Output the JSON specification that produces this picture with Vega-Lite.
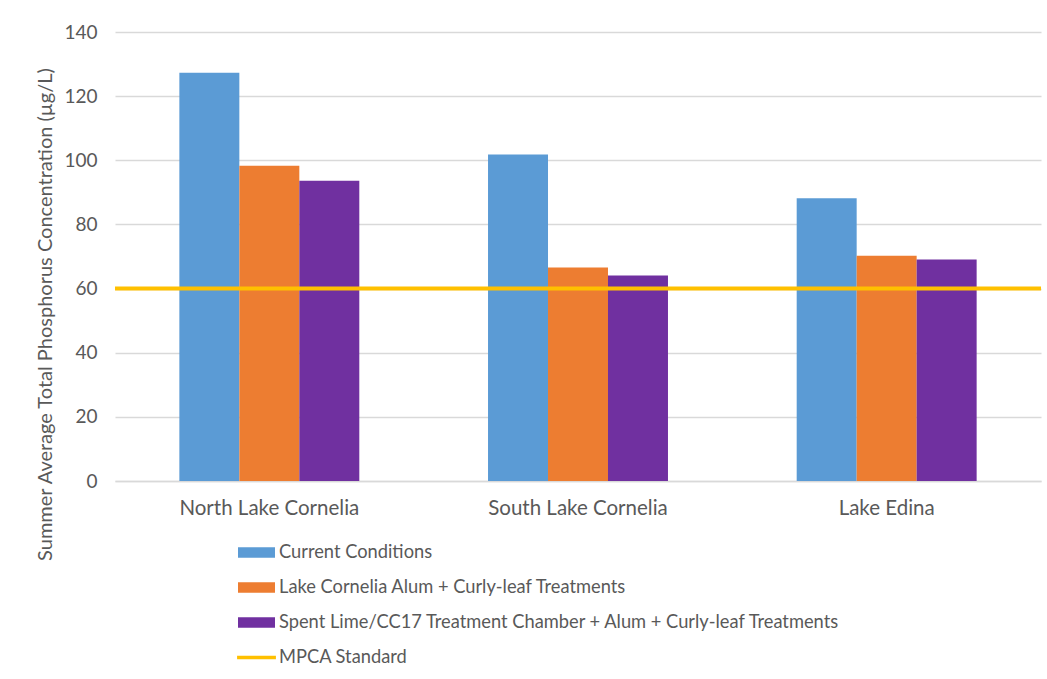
{
  "$schema": "https://vega.github.io/schema/vega-lite/v6.json",
  "width": 926,
  "height": 449,
  "autosize": {"type": "none"},
  "padding": {"left": 115, "top": 32, "right": 6, "bottom": 198},
  "background": "white",
  "config": {
    "font": "Lato",
    "view": {"stroke": null}
  },
  "datasets": {
    "bars": [
      {"lake": "North Lake Cornelia", "scenario": "Current Conditions", "tp": 127.3},
      {"lake": "North Lake Cornelia", "scenario": "Lake Cornelia Alum + Curly-leaf Treatments", "tp": 98.3},
      {"lake": "North Lake Cornelia", "scenario": "Spent Lime/CC17 Treatment Chamber + Alum + Curly-leaf Treatments", "tp": 93.6},
      {"lake": "South Lake Cornelia", "scenario": "Current Conditions", "tp": 101.8},
      {"lake": "South Lake Cornelia", "scenario": "Lake Cornelia Alum + Curly-leaf Treatments", "tp": 66.6},
      {"lake": "South Lake Cornelia", "scenario": "Spent Lime/CC17 Treatment Chamber + Alum + Curly-leaf Treatments", "tp": 64.1},
      {"lake": "Lake Edina", "scenario": "Current Conditions", "tp": 88.2},
      {"lake": "Lake Edina", "scenario": "Lake Cornelia Alum + Curly-leaf Treatments", "tp": 70.2},
      {"lake": "Lake Edina", "scenario": "Spent Lime/CC17 Treatment Chamber + Alum + Curly-leaf Treatments", "tp": 69.1}
    ],
    "standard": [
      {"name": "MPCA Standard", "tp": 60}
    ]
  },
  "encoding": {
    "y": {
      "field": "tp",
      "type": "quantitative",
      "scale": {"domain": [0, 140], "nice": false},
      "axis": {
        "title": "Summer Average Total Phosphorus Concentration (µg/L)",
        "values": [0, 20, 40, 60, 80, 100, 120, 140],
        "grid": true,
        "gridColor": "#D9D9D9",
        "gridWidth": 1.3,
        "domain": false,
        "ticks": false,
        "labelPadding": 18,
        "labelFontSize": 19,
        "labelColor": "#595959",
        "titleFontSize": 20,
        "titleColor": "#595959",
        "titleFontWeight": "normal",
        "titleAngle": -90,
        "titleX": -70,
        "titleY": 282,
        "titleAlign": "center",
        "titleBaseline": "middle"
      }
    }
  },
  "layer": [
    {
      "data": {"name": "bars"},
      "mark": {"type": "bar"},
      "encoding": {
        "x": {
          "field": "lake",
          "type": "nominal",
          "sort": ["North Lake Cornelia", "South Lake Cornelia", "Lake Edina"],
          "scale": {"paddingInner": 0.417, "paddingOuter": 0.2085},
          "axis": {
            "title": null,
            "labelAngle": 0,
            "labelFontSize": 20.5,
            "labelColor": "#595959",
            "labelPadding": 17,
            "ticks": false,
            "domain": true,
            "domainColor": "#D9D9D9",
            "domainWidth": 1.3,
            "labelLimit": 0
          }
        },
        "xOffset": {
          "field": "scenario",
          "sort": ["Current Conditions", "Lake Cornelia Alum + Curly-leaf Treatments", "Spent Lime/CC17 Treatment Chamber + Alum + Curly-leaf Treatments"],
          "scale": {"paddingInner": 0, "paddingOuter": 0}
        },
        "color": {
          "field": "scenario",
          "type": "nominal",
          "scale": {
            "domain": ["Current Conditions", "Lake Cornelia Alum + Curly-leaf Treatments", "Spent Lime/CC17 Treatment Chamber + Alum + Curly-leaf Treatments", "MPCA Standard"],
            "range": ["#5B9BD5", "#ED7D31", "#7030A0", "#FFC000"]
          },
          "legend": {
            "title": null,
            "orient": "none",
            "legendX": 123,
            "legendY": 502,
            "direction": "vertical",
            "padding": 0,
            "symbolSize": 1369,
            "symbolType": "square",
            "symbolStrokeWidth": 0,
            "rowPadding": 8,
            "labelOffset": 4,
            "labelFontSize": 18.3,
            "labelColor": "#595959",
            "labelLimit": 0,
            "encode": {
              "symbols": {
                "update": {
                  "shape": {"signal": "datum.value === 'MPCA Standard' ? 'M-1.05,-0.1H1.05V0.1H-1.05Z' : 'M-1,-0.28H1V0.28H-1Z'"}
                }
              }
            }
          }
        }
      }
    },
    {
      "data": {"name": "standard"},
      "mark": {"type": "rule", "color": "#FFC000", "strokeWidth": 4},
      "encoding": {}
    }
  ]
}
